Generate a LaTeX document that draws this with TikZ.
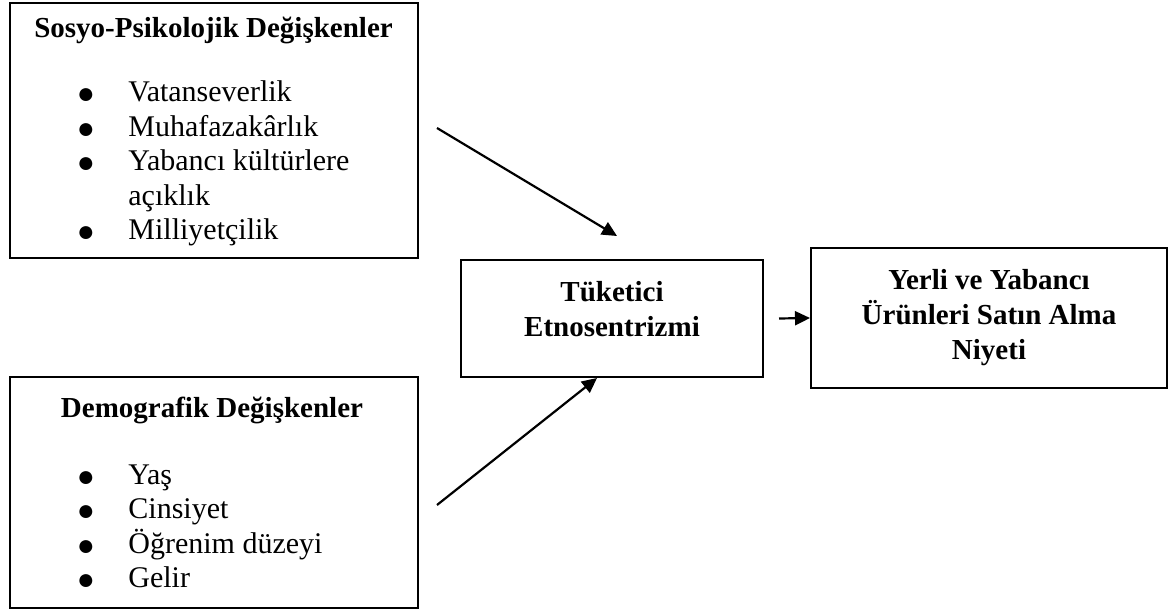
\documentclass[tikz,border=0pt]{standalone}
\usepackage{fontspec}
\setmainfont{Liberation Serif}
\usetikzlibrary{arrows.meta,calc}

\begin{document}
\begin{tikzpicture}[x=0.5pt,y=-0.5pt,
	box/.style={draw,line width=1pt,inner sep=0pt},
	head/.style={font=\fontsize{14.5}{17.5}\selectfont\bfseries,align=center,inner sep=0pt},
	item/.style={font=\fontsize{15}{17.25}\selectfont,anchor=base west,inner sep=0pt},
	dot/.style={font=\fontsize{15}{15}\selectfont,anchor=base,inner sep=0pt},
	conn/.style={line width=1.1pt,-{Triangle[length=7.5pt,width=7pt]}}]
			\useasboundingbox (0,0) rectangle (1171,614);

			% boxes
			\node[box,minimum width=204pt,minimum height=127.5pt] (psy) at (214,130.5) {};
			\node[box,minimum width=204pt,minimum height=115.5pt] (dem) at (214,492.5) {};
			\node[box,minimum width=151pt,minimum height=58.5pt] (mid) at (612,318.5) {};
			\node[box,minimum width=178pt,minimum height=70pt] (res) at (989,318) {};

			% titles
			\node[head,anchor=base] (psyT) at (213.5,38) {Sosyo-Psikolojik Değişkenler};
			\node[head,anchor=base] (demT) at (212,417) {Demografik Değişkenler};
			\node[head] (midT) at (612,309) {Tüketici\\Etnosentrizmi};
			\node[head] (resT) at (989,318) {Yerli ve Yabancı\\Ürünleri Satın Alma\\Niyeti};

			% bullet lists
			\foreach \txt/\yy/\nm in {Vatanseverlik/102/a, Muhafazakârlık/136.5/b,
				Yabancı kültürlere/171/c, Milliyetçilik/240/d}{
				\node[dot] (psyB\nm) at (86,\yy+2) {●};
				\node[item] (psyI\nm) at (128,\yy) {\txt};
			}
			\node[item] (psyIc2) at (128,205.5) {açıklık};

			\foreach \txt/\yy/\nm in {Yaş/484/a, Cinsiyet/518.5/b,
				Öğrenim düzeyi/553/c, Gelir/587.5/d}{
				\node[dot] (demB\nm) at (86,\yy+2) {●};
				\node[item] (demI\nm) at (128,\yy) {\txt};
			}

			% arrows
			\coordinate (psyA) at (437,128);
			\coordinate (midA) at ($(mid.north west)+(157,-23)$);
			\coordinate (demA) at (437,505);
			\coordinate (resA) at ($(mid.east)+(15,0)$);

			\draw[conn] (psyA)--(midA);
			\draw[conn] (demA)--($(mid.south west)+(137,0)$);
			\draw[conn] (resA)--(res.west);
		\end{tikzpicture}
\end{document}
